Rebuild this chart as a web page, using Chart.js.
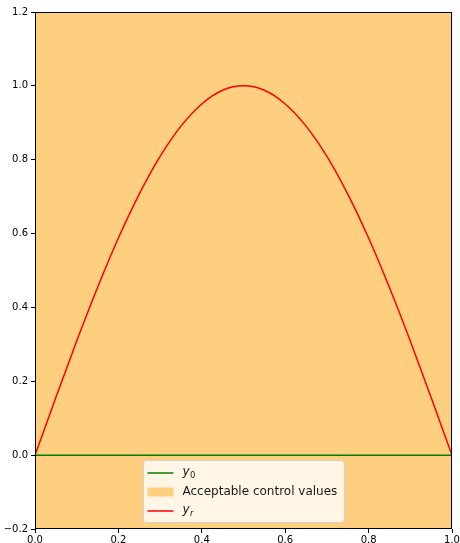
<!DOCTYPE html>
<html>
<head>
<meta charset="utf-8">
<script src="https://cdn.jsdelivr.net/npm/chart.js@4/dist/chart.umd.min.js"></script>
<style>
  html, body { margin: 0; padding: 0; background: #ffffff; }
  #wrap { width: 460px; height: 543px; position: relative; }
</style>
</head>
<body>
<div id="wrap"><canvas id="c" width="460" height="543"></canvas></div>
<script>
// ---- data ----
const xValues = [0.00, 0.05, 0.10, 0.15, 0.20, 0.25, 0.30, 0.35, 0.40, 0.45, 0.50,
                 0.55, 0.60, 0.65, 0.70, 0.75, 0.80, 0.85, 0.90, 0.95, 1.00];
const yrValues = [0.000, 0.156, 0.309, 0.454, 0.588, 0.707, 0.809, 0.891, 0.951, 0.988, 1.000,
                  0.988, 0.951, 0.891, 0.809, 0.707, 0.588, 0.454, 0.309, 0.156, 0.000];
const y0X = [0.0, 1.0];
const y0Values = [0.0, 0.0];
const acceptX = [0.0, 1.0];
const acceptLow = [-0.2, -0.2];
const acceptHigh = [1.2, 1.2];
const xTicks = [0.0, 0.2, 0.4, 0.6, 0.8, 1.0];
const yTicks = [-0.2, 0.0, 0.2, 0.4, 0.6, 0.8, 1.0, 1.2];
const legendLabels = [
  { kind: 'line', color: '#008000', base: 'y', sub: '0', subItalic: false },
  { kind: 'patch', color: 'rgb(255,207,128)', text: 'Acceptable control values' },
  { kind: 'line', color: '#ff0000', base: 'y', sub: 'r', subItalic: true }
];

const toPts = (xs, ys) => xs.map((x, i) => ({ x: x, y: ys[i] }));
const fmt = v => v.toFixed(1).replace('-', '\u2212');

const frameAndLegend = {
  id: 'frameAndLegend',
  afterDraw(chart) {
    const ctx = chart.ctx;
    const a = chart.chartArea;
    ctx.save();
    // spines
    ctx.strokeStyle = '#000';
    ctx.lineWidth = 1;
    ctx.strokeRect(Math.round(a.left) + 0.5, Math.round(a.top) + 0.5,
                   Math.round(a.right - a.left) - 1, Math.round(a.bottom - a.top) - 1);

    // legend
    const fs = 12;
    const subFs = 8.5;
    const rowH = 19;
    const padL = 4, handleLen = 26, gap = 9, padR = 7, padV = 4;
    const subFont = l => (l.subItalic ? 'italic ' : '') + subFs + 'px "DejaVu Sans"';
    const widths = legendLabels.map(l => {
      if (l.text) { ctx.font = fs + 'px "DejaVu Sans"'; return ctx.measureText(l.text).width; }
      ctx.font = 'italic ' + fs + 'px "DejaVu Sans"';
      const w1 = ctx.measureText(l.base).width;
      ctx.font = subFont(l);
      return w1 + ctx.measureText(l.sub).width + 1;
    });
    const boxW = padL + handleLen + gap + Math.max(...widths) + padR;
    const boxH = padV * 2 + rowH * legendLabels.length - 3;
    const cx = (a.left + a.right) / 2;
    const bx = Math.round(cx - boxW / 2) + 0.5;
    const by = Math.round(a.bottom - 7 - boxH) + 0.5;
    const r = 3;
    ctx.beginPath();
    ctx.moveTo(bx + r, by);
    ctx.lineTo(bx + boxW - r, by);
    ctx.quadraticCurveTo(bx + boxW, by, bx + boxW, by + r);
    ctx.lineTo(bx + boxW, by + boxH - r);
    ctx.quadraticCurveTo(bx + boxW, by + boxH, bx + boxW - r, by + boxH);
    ctx.lineTo(bx + r, by + boxH);
    ctx.quadraticCurveTo(bx, by + boxH, bx, by + boxH - r);
    ctx.lineTo(bx, by + r);
    ctx.quadraticCurveTo(bx, by, bx + r, by);
    ctx.closePath();
    ctx.fillStyle = 'rgba(255,255,255,0.8)';
    ctx.fill();
    ctx.strokeStyle = 'rgba(204,204,204,0.8)';
    ctx.lineWidth = 1;
    ctx.stroke();

    legendLabels.forEach((l, i) => {
      const yc = by + padV + rowH * i + rowH / 2 - 1;
      const hx = bx + padL;
      if (l.kind === 'line') {
        ctx.strokeStyle = l.color;
        ctx.lineWidth = 1.5;
        ctx.beginPath();
        ctx.moveTo(hx, yc);
        ctx.lineTo(hx + handleLen, yc);
        ctx.stroke();
      } else {
        ctx.fillStyle = l.color;
        ctx.fillRect(hx, yc - 4.5, handleLen, 9);
      }
      const tx = hx + handleLen + gap;
      ctx.fillStyle = '#1a1a1a';
      ctx.textBaseline = 'middle';
      ctx.textAlign = 'left';
      if (l.text) {
        ctx.font = fs + 'px "DejaVu Sans"';
        ctx.fillText(l.text, tx, yc);
      } else {
        ctx.font = 'italic ' + fs + 'px "DejaVu Sans"';
        ctx.fillText(l.base, tx, yc - 1);
        const w1 = ctx.measureText(l.base).width;
        ctx.font = subFont(l);
        ctx.fillText(l.sub, tx + w1 + 0.5, yc + 3);
      }
    });
    ctx.restore();
  }
};

new Chart(document.getElementById('c'), {
  type: 'line',
  data: {
    datasets: [
      { label: 'acceptLow', data: toPts(acceptX, acceptLow), borderWidth: 0, pointRadius: 0,
        borderColor: 'rgba(0,0,0,0)', fill: false, order: 4 },
      { label: 'Acceptable control values', data: toPts(acceptX, acceptHigh), borderWidth: 0, pointRadius: 0,
        borderColor: 'rgba(0,0,0,0)', backgroundColor: 'rgb(255,207,128)', fill: '-1', order: 3 },
      { label: 'y0', data: toPts(y0X, y0Values), borderColor: '#008000', borderWidth: 1.5,
        pointRadius: 0, fill: false, order: 1 },
      { label: 'yr', data: toPts(xValues, yrValues), borderColor: '#ff0000', borderWidth: 1.5,
        pointRadius: 0, fill: false, cubicInterpolationMode: 'monotone', order: 0 }
    ]
  },
  options: {
    responsive: false,
    animation: false,
    devicePixelRatio: 1,
    layout: { padding: { top: 12, right: 8, left: 0, bottom: 0 } },
    plugins: { legend: { display: false }, tooltip: { enabled: false } },
    scales: {
      x: {
        type: 'linear', min: 0, max: 1,
        afterBuildTicks: s => { s.ticks = xTicks.map(v => ({ value: v })); },
        afterFit: s => { s.height = 14; s.paddingRight = 0; s.paddingLeft = 0; },
        grid: { drawOnChartArea: false, tickLength: 4, color: '#000', tickColor: '#000' },
        border: { display: false },
        ticks: { color: '#000', font: { family: 'DejaVu Sans', size: 10 }, padding: 1,
                 maxRotation: 0, autoSkip: false, callback: v => fmt(v) }
      },
      y: {
        type: 'linear', min: -0.2, max: 1.2,
        afterBuildTicks: s => { s.ticks = yTicks.map(v => ({ value: v })); },
        afterFit: s => { s.width = 35; },
        grid: { drawOnChartArea: false, tickLength: 4, color: '#000', tickColor: '#000' },
        border: { display: false },
        ticks: { color: '#000', font: { family: 'DejaVu Sans', size: 10 }, padding: 3,
                 autoSkip: false, callback: v => fmt(v) }
      }
    }
  },
  plugins: [frameAndLegend]
});
</script>
</body>
</html>
